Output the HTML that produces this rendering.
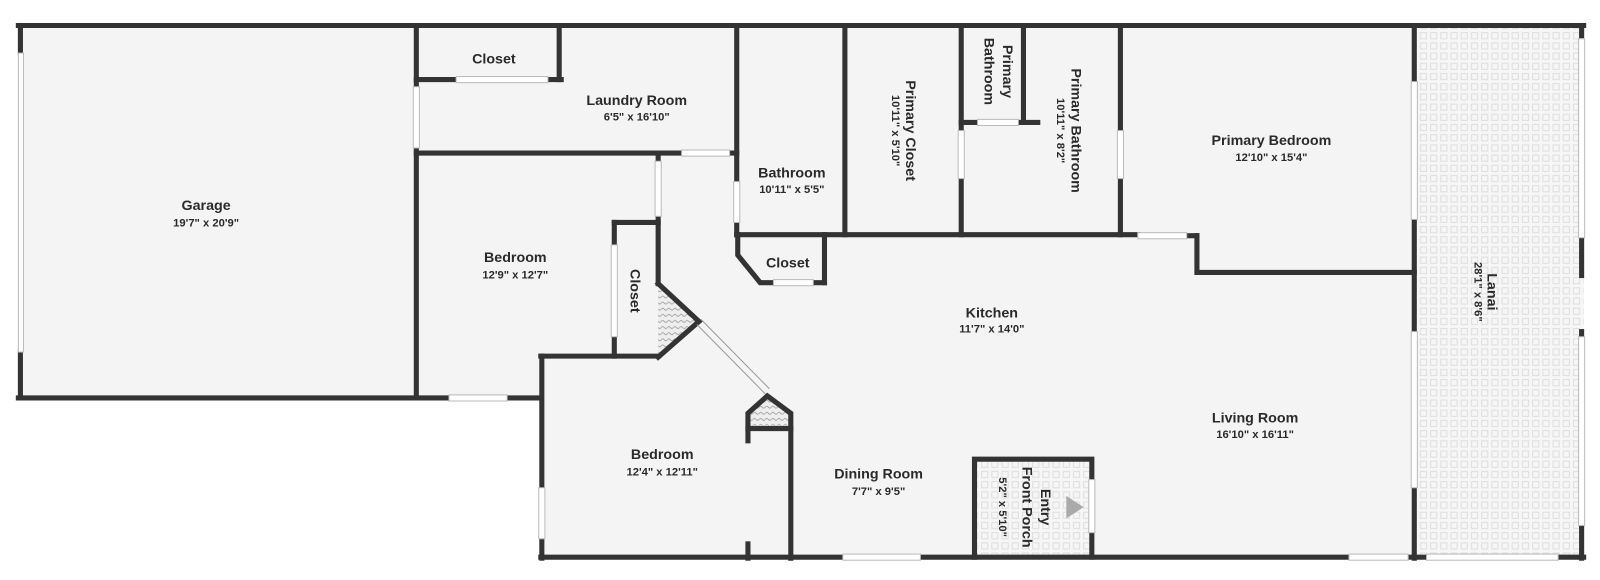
<!DOCTYPE html>
<html><head><meta charset="utf-8"><style>
html,body{margin:0;padding:0;background:#fff;}
svg{display:block}
text{font-family:"Liberation Sans",sans-serif;fill:#2a2a2a;text-anchor:middle}
.n{font-size:14px;font-weight:bold}
.d{font-size:11px;font-weight:bold}
</style></head><body>
<svg width="1600" height="580" viewBox="0 0 1600 580" xmlns="http://www.w3.org/2000/svg">
<defs>
<pattern id="tile" width="10" height="10" patternUnits="userSpaceOnUse">
<rect width="10" height="10" fill="#f6f6f6"/>
<rect x="2" y="2" width="6" height="6" fill="none" stroke="#dedede" stroke-width="1"/>
</pattern>
<pattern id="hatch" width="6" height="6" patternUnits="userSpaceOnUse">
<rect width="6" height="6" fill="#eee"/>
<path d="M0 3 Q1.5 1 3 3 T6 3" fill="none" stroke="#999" stroke-width="0.8"/>
</pattern>
</defs>
<g transform="scale(1.0204)">
<g fill="#f4f4f4">
<rect x="18" y="25" width="1370" height="365"/>
<rect x="530" y="345" width="858" height="202"/>
</g>
<rect x="1388" y="25" width="164" height="522" fill="url(#tile)"/>
<rect x="955" y="450" width="115" height="96" fill="url(#tile)"/>
<polygon points="645,278 685,315 645,350" fill="url(#hatch)"/>
<polygon points="733,405 752,388 775,405 775,420 733,420" fill="url(#hatch)"/>
<g stroke="#333" stroke-width="5" fill="none" stroke-linecap="square">
<line x1="18" y1="25" x2="1552" y2="25"/>
<line x1="20" y1="25" x2="20" y2="52"/><line x1="20" y1="345" x2="20" y2="390"/>
<line x1="18" y1="390" x2="440" y2="390"/><line x1="497" y1="390" x2="530" y2="390"/>
<line x1="408" y1="25" x2="408" y2="85"/><line x1="408" y1="145" x2="408" y2="390"/>
<line x1="408" y1="78" x2="447" y2="78"/><line x1="537" y1="78" x2="550" y2="78"/>
<line x1="548" y1="25" x2="548" y2="78"/>
<line x1="408" y1="150" x2="668" y2="150"/><line x1="715" y1="150" x2="722" y2="150"/>
<line x1="645" y1="150" x2="645" y2="158"/><line x1="645" y1="212" x2="645" y2="278"/>
<line x1="602" y1="218" x2="645" y2="218"/>
<line x1="602" y1="218" x2="602" y2="240"/><line x1="602" y1="330" x2="602" y2="349"/>
<line x1="530" y1="349" x2="645" y2="349"/>
<polyline points="645,278 685,315 645,350"/>
<line x1="531" y1="349" x2="531" y2="478"/><line x1="531" y1="528" x2="531" y2="547"/>
<polyline points="733,432 733,405 752,388 775,405 775,547"/>
<line x1="733" y1="420" x2="775" y2="420"/>
<line x1="733" y1="533" x2="733" y2="547"/>
<line x1="530" y1="546" x2="826" y2="546"/><line x1="902" y1="546" x2="1322" y2="546"/>
<line x1="1380" y1="546" x2="1398" y2="546"/><line x1="1527" y1="546" x2="1552" y2="546"/>
<polyline points="955,546 955,450 1070,450 1070,470"/><line x1="1070" y1="522" x2="1070" y2="546"/>
<line x1="722" y1="25" x2="722" y2="178"/><line x1="722" y1="218" x2="722" y2="230"/>
<line x1="828" y1="25" x2="828" y2="230"/>
<line x1="722" y1="230" x2="1115" y2="230"/><line x1="1163" y1="231" x2="1173" y2="231"/>
<polyline points="723,230 723,250 745,277 758,277"/><line x1="797" y1="277" x2="808" y2="277"/>
<line x1="808" y1="230" x2="808" y2="277"/>
<line x1="942" y1="25" x2="942" y2="128"/><line x1="942" y1="175" x2="942" y2="230"/>
<line x1="1003" y1="25" x2="1003" y2="120"/>
<line x1="942" y1="120" x2="958" y2="120"/><line x1="998" y1="120" x2="1017" y2="120"/>
<line x1="1098" y1="25" x2="1098" y2="128"/><line x1="1098" y1="175" x2="1098" y2="230"/>
<polyline points="1173,231 1173,267 1386,267"/>
<line x1="1386" y1="25" x2="1386" y2="80"/><line x1="1386" y1="215" x2="1386" y2="325"/><line x1="1386" y1="478" x2="1386" y2="547"/>
<line x1="1550" y1="25" x2="1550" y2="35"/><line x1="1550" y1="235" x2="1550" y2="270"/>
<line x1="1550" y1="325" x2="1550" y2="330"/><line x1="1550" y1="515" x2="1550" y2="547"/>
</g>
<g fill="#fff" stroke="#bbb" stroke-width="1">
<rect x="18" y="52" width="5" height="293"/>
<rect x="440" y="387" width="57" height="6"/>
<rect x="405" y="85" width="6" height="60"/>
<rect x="447" y="75" width="90" height="6"/>
<rect x="668" y="147" width="47" height="6"/>
<rect x="642" y="158" width="6" height="54"/>
<rect x="599" y="240" width="6" height="90"/>
<rect x="528" y="478" width="6" height="50"/>
<rect x="826" y="543" width="76" height="6"/>
<rect x="1322" y="543" width="58" height="6"/>
<rect x="1398" y="543" width="129" height="6"/>
<rect x="1067" y="470" width="6" height="52"/>
<rect x="719" y="178" width="6" height="40"/>
<rect x="758" y="274" width="39" height="6"/>
<rect x="939" y="128" width="6" height="47"/>
<rect x="958" y="117" width="40" height="6"/>
<rect x="1095" y="128" width="6" height="47"/>
<rect x="1115" y="228" width="48" height="6"/>
<rect x="1383" y="80" width="6" height="135"/>
<rect x="1383" y="325" width="6" height="153"/>
<rect x="1547" y="38" width="6" height="195"/>
<rect x="1547" y="330" width="6" height="185"/>
</g>
<g stroke="#999" stroke-width="1">
<line x1="687" y1="313" x2="754" y2="381"/><line x1="683" y1="318" x2="750" y2="386"/>
</g>
<polygon points="1045,486 1062,497 1045,508" fill="#aaa"/>
<text class="n" x="202" y="206">Garage</text><text class="d" x="202" y="222">19'7" x 20'9"</text>
<text class="n" x="484" y="62">Closet</text>
<text class="n" x="624" y="103">Laundry Room</text><text class="d" x="624" y="118">6'5" x 16'10"</text>
<text class="n" x="776" y="174">Bathroom</text><text class="d" x="776" y="189">10'11" x 5'5"</text>
<text class="n" x="505" y="257">Bedroom</text><text class="d" x="505" y="273">12'9" x 12'7"</text>
<text class="n" x="772" y="262">Closet</text>
<text class="n" x="1246" y="142">Primary Bedroom</text><text class="d" x="1246" y="158">12'10" x 15'4"</text>
<text class="n" x="972" y="311">Kitchen</text><text class="d" x="972" y="326">11'7" x 14'0"</text>
<text class="n" x="1230" y="414">Living Room</text><text class="d" x="1230" y="429">16'10" x 16'11"</text>
<text class="n" x="861" y="469">Dining Room</text><text class="d" x="861" y="485">7'7" x 9'5"</text>
<text class="n" x="649" y="450">Bedroom</text><text class="d" x="649" y="466">12'4" x 12'11"</text>
<text class="n" transform="translate(618,285) rotate(90)">Closet</text>
<text class="n" transform="translate(888,128) rotate(90)">Primary Closet</text>
<text class="d" transform="translate(874,128) rotate(90)">10'11" x 5'10"</text>
<text class="n" transform="translate(983,70) rotate(90)">Primary</text>
<text class="n" transform="translate(965,70) rotate(90)">Bathroom</text>
<text class="n" transform="translate(1050,128) rotate(90)">Primary Bathroom</text>
<text class="d" transform="translate(1036,128) rotate(90)">10'11" x 8'2"</text>
<text class="n" transform="translate(1020,497) rotate(90)">Entry</text>
<text class="n" transform="translate(1002,497) rotate(90)">Front Porch</text>
<text class="d" transform="translate(979,497) rotate(90)">5'2" x 5'10"</text>
<text class="n" transform="translate(1458,286) rotate(90)">Lanai</text>
<text class="d" transform="translate(1445,286) rotate(90)">28'1" x 8'6"</text>
</g>
</svg>
</body></html>
